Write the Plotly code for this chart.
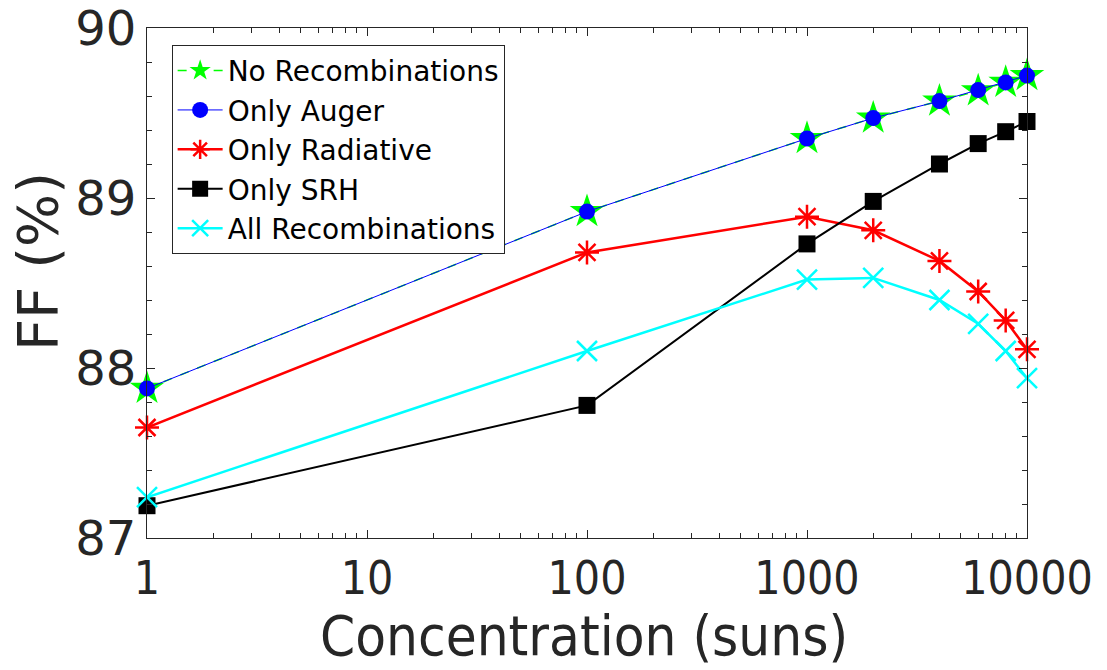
import plotly.graph_objects as go

conc = [1, 100, 1000, 2000, 4000, 6000, 8000, 10000]
no_recomb = [87.88, 88.92, 89.35, 89.47, 89.57, 89.63, 89.68, 89.72]
only_auger = [87.88, 88.92, 89.35, 89.47, 89.57, 89.635, 89.68, 89.72]
only_rad = [87.65, 88.68, 88.89, 88.81, 88.63, 88.45, 88.28, 88.11]
only_srh = [87.19, 87.78, 88.73, 88.98, 89.20, 89.32, 89.39, 89.45]
all_recomb = [87.24, 88.10, 88.52, 88.53, 88.40, 88.26, 88.10, 87.94]

names = ["No Recombinations", "Only Auger", "Only Radiative", "Only SRH", "All Recombinations"]
xticks = [1, 10, 100, 1000, 10000]
xticktext = ["1", "10", "100", "1000", "10000"]
yticks = [87, 88, 89, 90]
xtitle = "Concentration (suns)"
ytitle = "FF (%)"

FONT = "DejaVu Sans"
CFONT = "DejaVu Sans Condensed, DejaVu Sans"
AX = "#262626"

fig = go.Figure()
fig.add_trace(go.Scatter(x=conc, y=no_recomb, name=names[0], mode="lines+markers", cliponaxis=False,
                         line=dict(color="#00ff00", width=1.5, dash="dash"),
                         marker=dict(symbol="star", size=26, color="#00ff00")))
fig.add_trace(go.Scatter(x=conc, y=only_auger, name=names[1], mode="lines+markers", cliponaxis=False,
                         line=dict(color="#0000ff", width=1),
                         marker=dict(symbol="circle", size=16, color="#0000ff")))
fig.add_trace(go.Scatter(x=conc, y=only_rad, name=names[2], mode="lines+markers", cliponaxis=False,
                         line=dict(color="#ff0000", width=2.5),
                         marker=dict(symbol="asterisk-open", size=20, color="#ff0000",
                                     line=dict(color="#ff0000", width=2.5))))
fig.add_trace(go.Scatter(x=conc, y=only_srh, name=names[3], mode="lines+markers", cliponaxis=False,
                         line=dict(color="#000000", width=2),
                         marker=dict(symbol="square", size=17, color="#000000")))
fig.add_trace(go.Scatter(x=conc, y=all_recomb, name=names[4], mode="lines+markers", cliponaxis=False,
                         line=dict(color="#00ffff", width=2.5),
                         marker=dict(symbol="x-thin-open", size=20, color="#00ffff",
                                     line=dict(color="#00ffff", width=2.5))))

fig.update_layout(
    width=1107, height=670,
    margin=dict(l=147, r=80, t=28, b=132, autoexpand=False),
    paper_bgcolor="white", plot_bgcolor="white",
    font=dict(family=FONT, color=AX),
    showlegend=True,
    legend=dict(x=0.028, y=0.967, xanchor="left", yanchor="top",
                bgcolor="white", bordercolor=AX, borderwidth=1,
                font=dict(size=28, family=FONT, color="#000000"),
                tracegroupgap=0, itemwidth=45),
    xaxis=dict(type="log", range=[0, 4], tickvals=xticks, ticktext=xticktext,
               automargin=False,
               showgrid=False, zeroline=False, showline=True, linecolor=AX, linewidth=1,
               mirror="allticks", ticks="inside", ticklen=8, tickcolor=AX,
               ticklabeloverflow="allow",
               tickfont=dict(size=46, family=CFONT, color=AX),
               minor=dict(ticks="inside", ticklen=5, tickcolor=AX, showgrid=False,
                          tickvals=[m * 10 ** d for d in range(4) for m in range(2, 10)])),
    yaxis=dict(range=[87, 90], tickvals=yticks,
               automargin=False,
               showgrid=False, zeroline=False, showline=True, linecolor=AX, linewidth=1,
               mirror="allticks", ticks="inside", ticklen=8, tickcolor=AX,
               ticklabeloverflow="allow",
               tickfont=dict(size=48, family=FONT, color=AX),
               minor=dict(ticks="inside", ticklen=5, tickcolor=AX, dtick=0.2, showgrid=False)),
    annotations=[
        dict(text=xtitle, xref="paper", yref="paper", x=0.497, y=-0.192,
             xanchor="center", yanchor="middle", showarrow=False,
             font=dict(size=56, family=CFONT, color=AX)),
        dict(text=ytitle, xref="paper", yref="paper", x=-0.125, y=0.541,
             xanchor="center", yanchor="middle", showarrow=False, textangle=-90,
             font=dict(size=56, family=FONT, color=AX)),
    ],
)

fig.write_html("out.html")
